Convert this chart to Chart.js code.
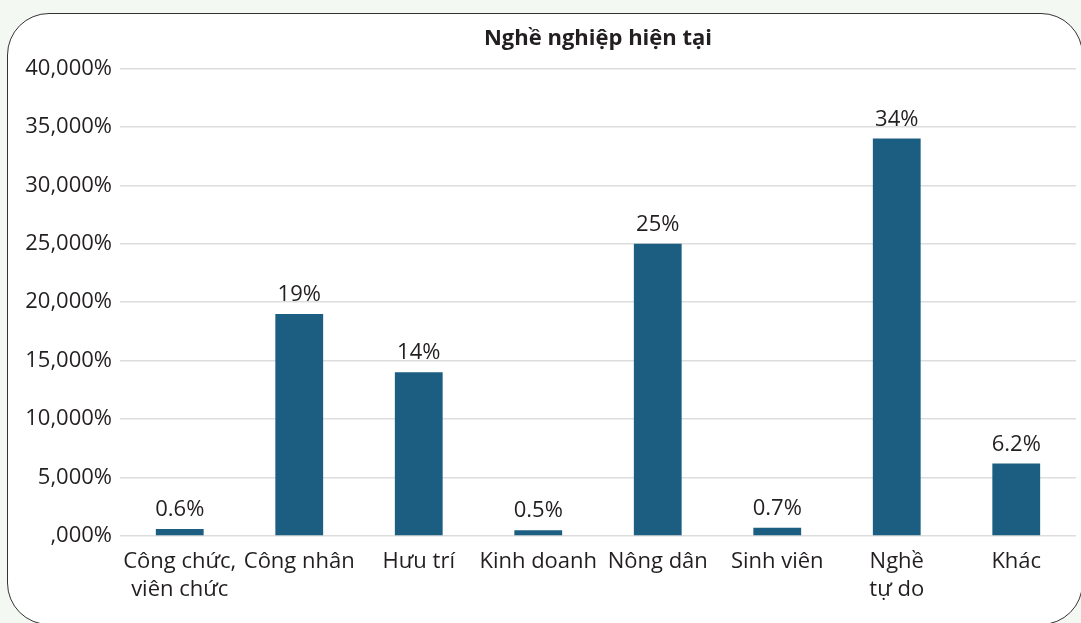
<!DOCTYPE html>
<html>
<head>
<meta charset="utf-8">
<script src="https://cdn.jsdelivr.net/npm/chart.js@4.4.1/dist/chart.umd.min.js"></script>
<style>
    html, body { margin: 0; padding: 0; background: #f3f8f2; }
    .card {
        position: absolute; left: 7px; top: 13px; width: 1076px; height: 612px;
        background: #ffffff; border: 1px solid #333; border-radius: 42px; box-sizing: border-box;
    }
    .wrap { position: absolute; left: 0; top: 0; width: 1081px; height: 623px; }
</style>
</head>
<body>
<div class="card"></div>
<div class="wrap"><canvas id="jobsChart"></canvas></div>
<script>
const categories = [
    ['Công chức,', 'viên chức'], 'Công nhân', 'Hưu trí', 'Kinh doanh',
    'Nông dân', 'Sinh viên', ['Nghề', 'tự do'], 'Khác'
];
const shares = [0.6, 19, 14, 0.5, 25, 0.7, 34, 6.2];
const yTickLabels = [',000%', '5,000%', '10,000%', '15,000%', '20,000%', '25,000%', '30,000%', '35,000%', '40,000%'];

const textColor = '#231f20';
const fontFamily = "'Open Sans', sans-serif";

// value labels above each bar
const barValueLabels = {
    id: 'barValueLabels',
    afterDatasetsDraw(chart) {
        const ctx = chart.ctx;
        const meta = chart.getDatasetMeta(0);
        ctx.save();
        ctx.fillStyle = textColor;
        ctx.font = `22px ${fontFamily}`;
        ctx.textAlign = 'center';
        ctx.textBaseline = 'alphabetic';
        meta.data.forEach((bar, i) => {
            ctx.fillText(shares[i] + '%', bar.x, bar.y - 13);
        });
        ctx.restore();
    }
};

Chart.defaults.font.family = fontFamily;
Chart.defaults.color = textColor;

new Chart(document.getElementById('jobsChart'), {
    type: 'bar',
    data: {
        labels: categories,
        datasets: [{
            data: shares,
            backgroundColor: '#1b5e81',
            barPercentage: 0.4,
            categoryPercentage: 1
        }]
    },
    options: {
        responsive: true,
        maintainAspectRatio: false,
        animation: false,
        layout: { padding: { top: 26, right: 5, left: 0, bottom: 0 } },
        scales: {
            x: {
                grid: { display: false },
                border: { display: false },
                ticks: {
                    padding: 4,
                    maxRotation: 0,
                    autoSkip: false,
                    font: { size: 22, lineHeight: 1.27 }
                },
                afterFit: s => { s.height = 87; }
            },
            y: {
                min: 0,
                max: 40,
                border: { display: false },
                grid: { color: '#dddddd', lineWidth: 1.5, drawTicks: false },
                ticks: {
                    stepSize: 5,
                    padding: 8,
                    font: { size: 22 },
                    callback: (v, i) => yTickLabels[i]
                },
                afterFit: s => { s.width = 120; }
            }
        },
        plugins: {
            legend: { display: false },
            tooltip: { enabled: false },
            title: {
                display: true,
                text: 'Nghề nghiệp hiện tại',
                fullSize: false,
                color: textColor,
                font: { size: 22, weight: 'bold', lineHeight: 1.2 },
                padding: { top: 0, bottom: 16 }
            }
        }
    },
    plugins: [barValueLabels]
});
</script>
</body>
</html>
